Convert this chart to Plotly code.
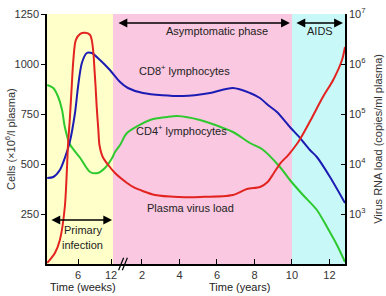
import plotly.graph_objects as go

# ---------------- data ----------------
# Plasma virus load (copies/ml) - primary infection phase (weeks)
virus_weeks = [0.4, 1.8, 2.7, 3.6, 4.2, 4.5, 4.85, 5.15, 5.6, 6.4, 7.3, 8.2, 8.5, 8.8, 9.0, 9.2, 9.4, 9.7, 9.9, 10.5, 11.5]
virus_weeks_load = [105, 166, 302, 1380, 26300, 76000, 347000, 1.2e6, 3.0e6, 4.0e6, 4.2e6, 3.8e6, 3.0e6,
                    1.66e6, 7.6e5, 3.47e5, 1.38e5, 4.8e4, 2.4e4, 1.38e4, 9550]
# Plasma virus load - later phase (years)
virus_years = [0.56, 1.2, 1.52, 2.7, 4.0, 5.1, 6.85, 7.6, 8.3, 8.7, 9.0, 9.4, 9.8, 10.3, 10.5, 11.0, 11.65, 12.2, 12.67, 12.83]
virus_years_load = [6600, 4170, 3470, 2400, 2190, 2190, 2400, 3160, 3470, 4370, 6300, 1.05e4, 1.51e4,
                    2.63e4, 3.47e4, 7.6e4, 2.19e5, 4.8e5, 1.2e6, 2.19e6]

# CD8+ lymphocytes (cells x10^6/l)
cd8_weeks = [0.4, 1.5, 2.7, 3.6, 4.5, 5.45, 6.0, 6.7, 7.6, 8.5, 10.0, 11.8]
cd8_weeks_val = [430, 435, 470, 530, 610, 755, 885, 1005, 1055, 1055, 1020, 970]
cd8_years = [0.83, 1.25, 2.05, 4.19, 5.63, 6.85, 7.76, 8.29, 8.72, 9.2, 9.89, 10.43, 10.96, 11.33, 12.03, 12.83]
cd8_years_val = [910, 880, 855, 840, 855, 880, 855, 830, 795, 760, 685, 630, 570, 535, 435, 305]

# CD4+ lymphocytes (cells x10^6/l)
cd4_weeks = [0.4, 1.5, 2.4, 3.1, 3.6, 4.5, 6.4, 8.2, 9.6, 10.9, 12.2]
cd4_weeks_val = [895, 880, 835, 770, 685, 600, 530, 460, 455, 480, 530]
cd4_years = [0.56, 0.83, 1.2, 2.43, 3.33, 3.87, 5.09, 6.85, 7.76, 8.4, 9.36, 9.89, 10.59, 11.33, 11.87, 12.4, 12.83]
cd4_years_val = [560, 595, 655, 720, 735, 740, 720, 660, 605, 575, 485, 420, 345, 270, 185, 95, 10]

week_ticks = [6, 12]
year_ticks = [2, 4, 6, 8, 10, 12]
cell_ticks = [250, 500, 750, 1000, 1250]
load_ticks = [1e3, 1e4, 1e5, 1e6, 1e7]
load_tick_text = ["10<sup>3</sup>", "10<sup>4</sup>", "10<sup>5</sup>", "10<sup>6</sup>", "10<sup>7</sup>"]

# ------------- broken time axis: weeks and years share one axis -------------
def wk(w):
    return (w * 5.5 - 59.5) / 18.75

def yr(y):
    return y

def pos(weeks, years):
    return [wk(w) for w in weeks] + [yr(y) for y in years]

X0, X1 = wk(0.36), 12.83
FONT = "Liberation Sans, Arial, sans-serif"

fig = go.Figure()
fig.add_trace(go.Scatter(x=pos(cd4_weeks, cd4_years), y=cd4_weeks_val + cd4_years_val,
                         mode="lines", line=dict(color="#2EC92E", width=2, shape="spline", smoothing=0.8)))
fig.add_trace(go.Scatter(x=pos(cd8_weeks, cd8_years), y=cd8_weeks_val + cd8_years_val,
                         mode="lines", line=dict(color="#1C1CB4", width=2, shape="spline", smoothing=0.8)))
fig.add_trace(go.Scatter(x=pos(virus_weeks, virus_years), y=virus_weeks_load + virus_years_load,
                         yaxis="y2", mode="lines",
                         line=dict(color="#E2231F", width=2, shape="spline", smoothing=0.8)))

shapes = [
    dict(type="rect", xref="x", yref="paper", x0=X0, x1=0.453, y0=0, y1=1,
         fillcolor="#FFFFC9", line_width=0, layer="below"),
    dict(type="rect", xref="x", yref="paper", x0=0.453, x1=10.0, y0=0, y1=1,
         fillcolor="#FAC8E0", line_width=0, layer="below"),
    dict(type="rect", xref="x", yref="paper", x0=10.0, x1=X1, y0=0, y1=1,
         fillcolor="#C9F8F8", line_width=0, layer="below"),
    # axis break marks
    dict(type="line", xref="x", yref="paper", x0=0.75, x1=1.02, y0=-0.025, y1=0.025,
         line=dict(color="black", width=1.2)),
    dict(type="line", xref="x", yref="paper", x0=0.95, x1=1.22, y0=-0.025, y1=0.025,
         line=dict(color="black", width=1.2)),
]

ann = []
def arrow(xa, xb, y):
    ann.append(dict(x=xb, y=y, ax=xa, ay=y, xref="x", yref="y", axref="x", ayref="y",
                    text="", showarrow=True, arrowhead=2, arrowside="end+start",
                    arrowsize=1.1, arrowwidth=1.6, arrowcolor="black"))

arrow(0.667, 9.89, 1205)
arrow(10.16, 12.72, 1205)
arrow(wk(0.9), wk(12.2), 220)

def label(x, y, t, size=11, color="#222"):
    ann.append(dict(x=x, y=y, xref="x", yref="y", text=t, showarrow=False,
                    font=dict(size=size, color=color, family=FONT)))

label(yr(6.0), 1166, "Asymptomatic phase")
label(yr(11.49), 1166, "AIDS")
label(yr(4.29), 968, "CD8<sup>+</sup> lymphocytes")
label(yr(4.13), 668, "CD4<sup>+</sup> lymphocytes")
label(yr(4.6), 280, "Plasma virus load")
label(wk(6.9), 172, "Primary")
label(wk(6.9), 97, "infection")

ann.append(dict(x=wk(6.9), y=-0.092, xref="x", yref="paper", text="Time (weeks)", showarrow=False,
                yanchor="middle", font=dict(size=11, color="#222", family=FONT)))
ann.append(dict(x=yr(7.2), y=-0.092, xref="x", yref="paper", text="Time (years)", showarrow=False,
                yanchor="middle", font=dict(size=11, color="#222", family=FONT)))
# axis titles
ann.append(dict(x=-0.124, y=0.5, xref="paper", yref="paper", text="Cells (×10<sup>6</sup>/l plasma)",
                showarrow=False, textangle=-90, xanchor="center", yanchor="middle",
                font=dict(size=11, color="#333", family=FONT)))
ann.append(dict(x=1.11, y=0.5, xref="paper", yref="paper", text="Virus RNA load (copies/ml plasma)",
                showarrow=False, textangle=-90, xanchor="center", yanchor="middle",
                font=dict(size=11, color="#333", family=FONT)))

tickvals_x = [wk(w) for w in week_ticks] + [yr(y) for y in year_ticks]
ticktext_x = [str(w) for w in week_ticks] + [str(y) for y in year_ticks]

fig.update_layout(
    width=386, height=296,
    margin=dict(l=47, r=41, t=14, b=32, autoexpand=False),
    paper_bgcolor="white", plot_bgcolor="white",
    showlegend=False,
    font=dict(family=FONT, size=11, color="#333"),
    shapes=shapes, annotations=ann,
    xaxis=dict(range=[X0, X1], tickvals=tickvals_x, ticktext=ticktext_x, automargin=False,
               showgrid=False, zeroline=False, showline=True, linecolor="black", linewidth=1.5,
               ticks="inside", ticklen=5, tickcolor="black", tickwidth=1.2,
               tickfont=dict(size=11, color="#333")),
    yaxis=dict(range=[0, 1250], tickvals=cell_ticks, automargin=False,
               showgrid=False, zeroline=False, showline=True, linecolor="black", linewidth=1.5,
               ticks="outside", ticklen=4, tickcolor="black", tickwidth=1.2,
               tickfont=dict(size=11, color="#333")),
    yaxis2=dict(type="log", range=[2, 7], overlaying="y", side="right", automargin=False,
                tickvals=load_ticks, ticktext=load_tick_text,
                showgrid=False, zeroline=False, showline=True, linecolor="black", linewidth=1.5,
                ticks="inside", ticklen=4, tickcolor="black", tickwidth=1.2,
                tickfont=dict(size=11, color="#333")),
)

fig.write_html("out.html")
